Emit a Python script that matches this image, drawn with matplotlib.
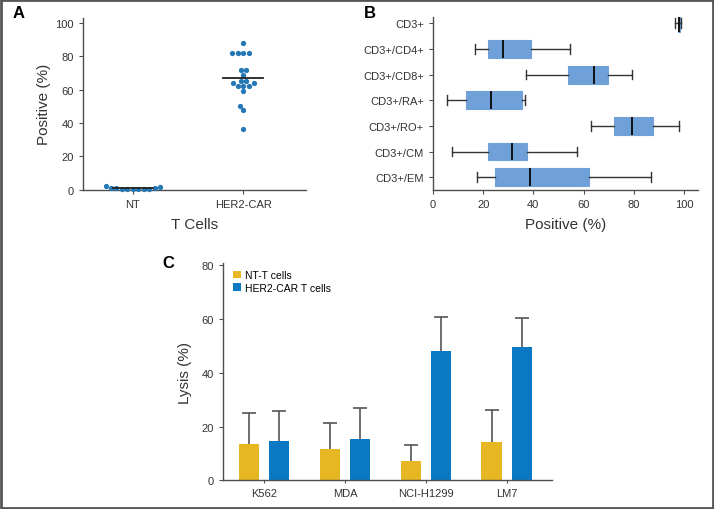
import matplotlib
matplotlib.use('Agg')
import matplotlib.pyplot as plt
import seaborn as sns
import pandas as pd
from matplotlib.patches import Rectangle

plt.rcParams['font.family'] = ['Liberation Sans', 'DejaVu Sans']

# panel A: percent positive per donor
nt_pos = [2.5, 1.0, 0.6, 0.3, 0.2, 0.4, 0.8, 1.2, 0.5, 1.6, 0.3]
car_pos = [87.8, 82.2, 82.2, 82.2, 82.2, 71.8, 71.8, 69.0, 65.2, 65.2,
           63.8, 63.8, 62.4, 62.4, 62.4, 59.0, 50.4, 47.8, 36.2]
groups_a = ['NT', 'HER2-CAR']

# panel B: phenotype box stats
pheno = ['CD3+', 'CD3+/CD4+', 'CD3+/CD8+', 'CD3+/RA+', 'CD3+/RO+', 'CD3+/CM', 'CD3+/EM']
b_min = [96.6, 16.9, 37.2, 5.7, 62.8, 7.4, 17.5]
b_q1 = [97.6, 22.0, 53.9, 13.1, 72.2, 22.0, 24.6]
b_med = [98.2, 27.8, 64.3, 23.2, 79.3, 31.6, 38.6]
b_q3 = [98.5, 39.2, 69.9, 35.5, 87.8, 37.3, 62.2]
b_max = [98.9, 54.6, 79.3, 36.8, 98.0, 57.2, 87.0]

# panel C: lysis
targets = ['K562', 'MDA', 'NCI-H1299', 'LM7']
nt_lysis = [13.5, 11.7, 7.3, 14.4]
nt_sd = [11.5, 9.8, 5.9, 11.9]
car_lysis = [14.5, 15.2, 48.0, 49.8]
car_sd = [11.2, 11.6, 12.7, 10.8]

AXC = '#4d4d4d'
DOT = '#2478b5'
YEL = '#e6b722'
BLU = '#0a78c2'
BOX = '#6fa0d8'


def style_axes(ax):
    for s in ['top', 'right']:
        ax.spines[s].set_visible(False)
    for s in ['left', 'bottom']:
        ax.spines[s].set_color(AXC)
        ax.spines[s].set_linewidth(1.0)
    ax.tick_params(colors=AXC, labelcolor='#333333', labelsize=8, length=3, width=0.8)


def upper_err(ax, xs, ys, sd):
    eb = ax.errorbar(xs, ys, yerr=[[0] * len(ys), sd], fmt='none', ecolor='#555555',
                     elinewidth=1.2, capsize=5, capthick=1.2, zorder=1)
    # only keep the top cap
    eb[1][0].set_visible(False)


fig = plt.figure(figsize=(7.14, 5.1), dpi=100)

# ---- A ----
axA = fig.add_axes([0.1162, 0.626, 0.3124, 0.337])
df = pd.DataFrame({'grp': ['NT'] * len(nt_pos) + ['HER2-CAR'] * len(car_pos),
                   'val': nt_pos + car_pos})
sns.swarmplot(data=df, x='grp', y='val', order=groups_a, color=DOT, size=3.8,
              ax=axA, clip_on=False, linewidth=0)
for i, vals in enumerate([nt_pos, car_pos]):
    m = sum(vals) / len(vals)
    axA.plot([i - 0.18, i + 0.18], [m, m], color='#222222', lw=1.3, zorder=5)
axA.set_xlim(-0.45, 1.57)
axA.set_ylim(0, 103)
axA.set_yticks([0, 20, 40, 60, 80, 100])
axA.set_xlabel('T Cells', fontsize=11, color='#333333', labelpad=6)
axA.set_ylabel('Positive (%)', fontsize=11, color='#333333', labelpad=3)
style_axes(axA)

# ---- B ----
axB = fig.add_axes([0.6064, 0.626, 0.3712, 0.339])
stats = []
for i in range(len(pheno)):
    stats.append({'whislo': b_min[i], 'q1': b_q1[i], 'med': b_med[i],
                  'q3': b_q3[i], 'whishi': b_max[i], 'fliers': []})
axB.bxp(stats, positions=range(len(pheno)), vert=False, widths=0.7,
        patch_artist=True, showfliers=False, capwidths=0.38,
        boxprops=dict(facecolor=BOX, edgecolor=BOX, linewidth=0.8),
        whiskerprops=dict(color='#333333', lw=1.0),
        capprops=dict(color='#333333', lw=1.0),
        medianprops=dict(color='#111111', lw=1.4))
axB.set_yticks(range(len(pheno)))
axB.set_yticklabels(pheno)
axB.set_ylim(6.49, -0.25)
axB.set_xlim(0, 105.6)
axB.set_xticks([0, 20, 40, 60, 80, 100])
axB.set_xlabel('Positive (%)', fontsize=11, color='#333333', labelpad=6)
style_axes(axB)

# ---- C ----
axC = fig.add_axes([0.3123, 0.0563, 0.4604, 0.4265])
x = list(range(len(targets)))
off = 0.1875
w = 0.25
nt_x = [i - off for i in x]
car_x = [i + off for i in x]
axC.bar(nt_x, nt_lysis, w, color=YEL, label='NT-T cells', zorder=2)
axC.bar(car_x, car_lysis, w, color=BLU, label='HER2-CAR T cells', zorder=2)
upper_err(axC, nt_x, nt_lysis, nt_sd)
upper_err(axC, car_x, car_lysis, car_sd)
axC.set_xticks(x)
axC.set_xticklabels(targets)
axC.set_xlim(-0.507, 3.556)
axC.set_ylim(0, 81)
axC.set_yticks([0, 20, 40, 60, 80])
axC.set_ylabel('Lysis (%)', fontsize=11, color='#333333', labelpad=7)
style_axes(axC)
axC.tick_params(axis='x', length=2)
axC.legend(loc='upper left', bbox_to_anchor=(0.01, 0.995), frameon=False, fontsize=7.5,
           handlelength=0.8, handleheight=0.8, handletextpad=0.4, labelspacing=0.25,
           borderaxespad=0.2)

# panel letters
for lx, ly, letter in [(13, 14, 'A'), (364, 14, 'B'), (162, 264, 'C')]:
    fig.text(lx / 714, 1 - ly / 510, letter, fontsize=12, fontweight='bold', va='center')

# outer frame
fig.patches.append(Rectangle((0.0015, 0.002), 0.997, 0.996, transform=fig.transFigure,
                             fill=False, edgecolor='#555555', lw=2))

fig.savefig('out.png', dpi=100)
